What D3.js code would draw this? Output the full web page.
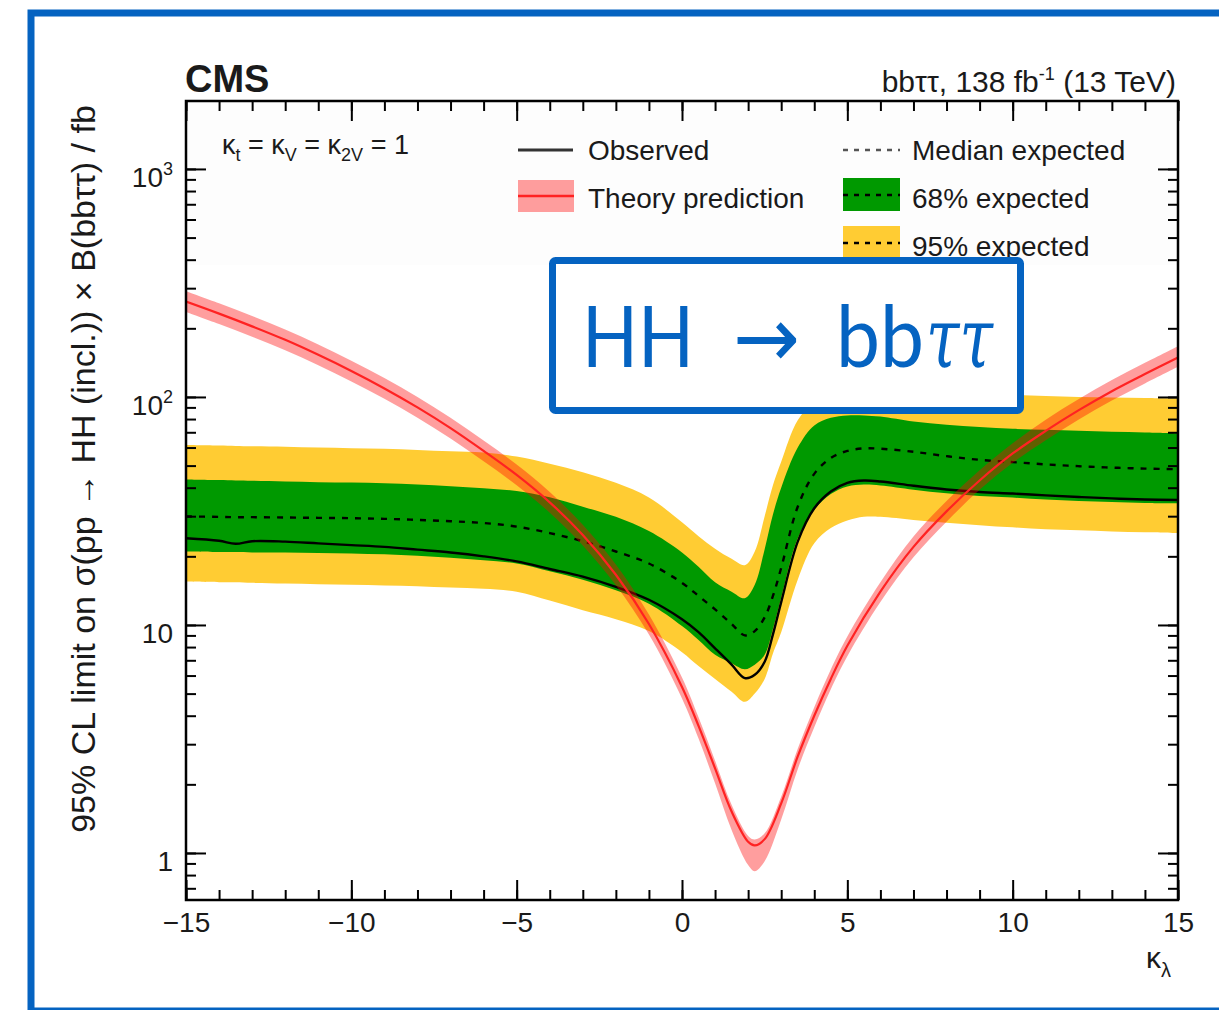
<!DOCTYPE html>
<html>
<head>
<meta charset="utf-8">
<title>HH to bbtautau limit vs kappa_lambda</title>
<script src="https://cdn.jsdelivr.net/npm/d3@7"></script>
<style>
  body { margin: 0; background: #fff; }
  svg text { font-family: "Liberation Sans", Arial, Helvetica, sans-serif; fill: #1a1a1a; }
</style>
</head>
<body>
<svg id="chart" width="1219" height="1010"></svg>
<script>
  // scan points for the limits (kappa_lambda)
  var kl = [-15,-14,-13.5,-13,-12,-11,-10,-9,-8,-7,-6,-5,-4,-3,-2,-1,0,0.5,1,1.5,1.9,2.2,2.5,2.75,3,3.5,4,4.5,5,5.5,6,7,8,9,10,11,12,13,14,15];
  var obsLimit  = [24.0,23.4,22.7,23.3,23.2,22.8,22.4,22.0,21.4,20.8,20.0,19.0,17.6,16.3,14.7,12.9,10.6,9.3,7.9,6.7,5.85,6.05,6.9,9.1,12.6,23.2,32.5,38.5,42.0,43.0,42.6,40.8,39.3,38.3,37.7,37.0,36.4,35.9,35.5,35.3];
  var expLimit  = [29.9,29.8,29.7,29.7,29.6,29.5,29.4,29.2,28.9,28.5,28.0,27.0,25.3,23.3,21.0,18.6,15.3,13.4,11.7,10.1,9.0,9.4,10.8,13.4,17.8,33.0,46.0,54.0,58.0,59.5,59.3,57.5,55.0,53.0,51.8,50.6,49.7,49.0,48.5,48.2];
  var exp68Up   = [43.5,43.2,43.0,42.9,42.6,42.3,42.1,41.8,41.3,40.6,39.8,38.7,36.3,33.0,29.8,25.8,20.8,18.0,15.4,14.0,13.1,15.0,21.5,30.5,40.0,60.0,75.0,81.0,83.0,83.0,82.0,78.0,75.5,73.8,72.5,71.8,71.0,70.3,69.8,69.3];
  var exp68Down = [21.0,20.9,20.9,20.8,20.8,20.7,20.6,20.4,20.1,19.7,19.2,18.6,17.2,15.8,14.2,12.4,9.9,8.6,7.4,6.8,6.4,6.7,7.4,9.6,13.2,24.0,32.0,37.5,40.5,41.3,40.9,39.2,37.8,36.8,36.2,35.5,35.0,34.6,34.3,34.2];
  var exp95Up   = [61.5,61.2,61.0,60.8,60.5,60.0,59.6,59.2,58.6,57.8,57.0,54.8,51.0,46.8,42.0,36.2,28.2,24.5,21.6,19.5,18.3,21.0,30.0,41.0,52.0,79.0,95.0,103.0,106.0,107.0,107.0,106.0,104.5,103.0,102.0,101.0,100.0,99.5,99.0,98.6];
  var exp95Down = [15.5,15.4,15.4,15.3,15.2,15.1,15.0,14.9,14.8,14.6,14.4,14.0,12.8,11.6,10.6,9.4,7.6,6.6,5.8,5.1,4.6,5.0,5.8,7.5,9.3,15.8,22.8,26.6,28.7,29.8,29.8,28.9,28.1,27.4,26.8,26.3,26.0,25.7,25.5,25.3];

  // theory prediction and its relative uncertainty
  var klTheory   = [-15,-14,-13,-12,-11,-10,-9,-8,-7,-6,-5,-4,-3,-2,-1,0,0.5,1,1.5,2,2.2,2.5,3,3.5,4,4.5,5,6,7,8,9,10,11,12,13,14,15];
  var theory     = [262,232,204,178,153,130,109,90,73,58,45.5,34.5,24.8,16.6,10.1,5.35,3.61,2.35,1.52,1.12,1.08,1.15,1.65,2.65,4.0,5.8,8.1,14.0,22,31.5,43,56.5,71,87.5,106,126,149];
  var theoryUp   = [0.11,0.11,0.11,0.11,0.11,0.11,0.11,0.11,0.11,0.11,0.11,0.11,0.11,0.11,0.10,0.10,0.09,0.08,0.07,0.06,0.06,0.06,0.07,0.08,0.09,0.10,0.10,0.10,0.11,0.11,0.11,0.11,0.12,0.12,0.12,0.12,0.12];
  var theoryDown = [0.10,0.10,0.10,0.10,0.10,0.10,0.10,0.10,0.10,0.10,0.10,0.10,0.10,0.10,0.10,0.11,0.12,0.14,0.17,0.21,0.23,0.20,0.15,0.12,0.11,0.10,0.10,0.10,0.10,0.10,0.09,0.09,0.09,0.09,0.09,0.09,0.09];

  var xTicks = [-15,-10,-5,0,5,10,15];
  var yTicks = [1,10,100,1000];
  var yTickBase = ["1","10","10","10"];
  var yTickExp = ["","","2","3"];

  var svg = d3.select("#chart");
  // plot frame in pixels (note: "top" is reserved on window)
  var pLeft = 186, pRight = 1178, pTop = 101, pBottom = 900;

  var x = d3.scaleLinear().domain([-15,15]).range([pLeft,pRight]);
  var y = d3.scaleLog().domain([0.622,1986]).range([pBottom,pTop]);
  var smooth = d3.curveCatmullRom.alpha(0.5);

  svg.append("defs").append("clipPath").attr("id","plotclip")
    .append("rect").attr("x",pLeft).attr("y",pTop).attr("width",pRight-pLeft).attr("height",pBottom-pTop);

  // faint legend backdrop
  svg.append("rect").attr("x",pLeft).attr("y",pTop).attr("width",pRight-pLeft).attr("height",164).attr("fill","#fdfdfd");

  var plot = svg.append("g").attr("clip-path","url(#plotclip)");

  function band(lo, hi) {
    return d3.area()
      .x(function(d,i){ return x(kl[i]); })
      .y0(function(d,i){ return y(lo[i]); })
      .y1(function(d,i){ return y(hi[i]); })
      .curve(smooth);
  }
  function limitLine(vals) {
    return d3.line()
      .x(function(d,i){ return x(kl[i]); })
      .y(function(d,i){ return y(vals[i]); })
      .curve(smooth);
  }

  plot.append("path").datum(kl).attr("d", band(exp95Down, exp95Up)).attr("fill","#ffcc33");
  plot.append("path").datum(kl).attr("d", band(exp68Down, exp68Up)).attr("fill","#009900");
  plot.append("path").datum(kl).attr("d", limitLine(expLimit))
    .attr("fill","none").attr("stroke","#000").attr("stroke-width",2.4).attr("stroke-dasharray","6,7");
  plot.append("path").datum(kl).attr("d", limitLine(obsLimit))
    .attr("fill","none").attr("stroke","#000").attr("stroke-width",2.4);

  // theory band + line
  var thArea = d3.area()
    .x(function(d,i){ return x(klTheory[i]); })
    .y0(function(d,i){ return y(theory[i]*(1-theoryDown[i])); })
    .y1(function(d,i){ return y(theory[i]*(1+theoryUp[i])); })
    .curve(smooth);
  var thLine = d3.line()
    .x(function(d,i){ return x(klTheory[i]); })
    .y(function(d,i){ return y(theory[i]); })
    .curve(smooth);
  plot.append("path").datum(klTheory).attr("d", thArea).attr("fill","#ff0000").attr("fill-opacity",0.38);
  plot.append("path").datum(klTheory).attr("d", thLine).attr("fill","none").attr("stroke","#ff2222").attr("stroke-width",2.2);

  // axes, ticks pointing inwards on all four sides
  function styleAxis(g) {
    g.select(".domain").remove();
    g.selectAll(".tick line").attr("stroke","#000").attr("stroke-width",2);
    g.selectAll(".tick text").style("font-size","28px").attr("fill","#1a1a1a");
  }
  var xMinor = d3.range(-15,16,1);
  var yMinor = y.ticks();

  svg.append("g").attr("transform","translate(0,"+pBottom+")")
    .call(d3.axisBottom(x).tickValues(xMinor).tickSizeInner(-10).tickSizeOuter(0).tickFormat(""))
    .call(styleAxis);
  svg.append("g").attr("transform","translate(0,"+pBottom+")")
    .call(d3.axisBottom(x).tickValues(xTicks).tickSizeInner(-20).tickSizeOuter(0).tickPadding(12).tickFormat(d3.format("d")))
    .call(styleAxis);
  svg.append("g").attr("transform","translate(0,"+pTop+")")
    .call(d3.axisTop(x).tickValues(xMinor).tickSizeInner(-10).tickSizeOuter(0).tickFormat(""))
    .call(styleAxis);
  svg.append("g").attr("transform","translate(0,"+pTop+")")
    .call(d3.axisTop(x).tickValues(xTicks).tickSizeInner(-20).tickSizeOuter(0).tickFormat(""))
    .call(styleAxis);

  svg.append("g").attr("transform","translate("+pLeft+",0)")
    .call(d3.axisLeft(y).tickValues(yMinor).tickSizeInner(-10).tickSizeOuter(0).tickFormat(""))
    .call(styleAxis);
  svg.append("g").attr("transform","translate("+pLeft+",0)")
    .call(d3.axisLeft(y).tickValues(yTicks).tickSizeInner(-20).tickSizeOuter(0).tickFormat(""))
    .call(styleAxis);
  svg.append("g").attr("transform","translate("+pRight+",0)")
    .call(d3.axisRight(y).tickValues(yMinor).tickSizeInner(-10).tickSizeOuter(0).tickFormat(""))
    .call(styleAxis);
  svg.append("g").attr("transform","translate("+pRight+",0)")
    .call(d3.axisRight(y).tickValues(yTicks).tickSizeInner(-20).tickSizeOuter(0).tickFormat(""))
    .call(styleAxis);

  // y tick labels with exponents
  yTicks.forEach(function(v,i) {
    var t = svg.append("text").attr("x",173).attr("y",y(v)+18)
      .attr("text-anchor","end").style("font-size","28px");
    t.append("tspan").text(yTickBase[i]);
    if (yTickExp[i]) t.append("tspan").attr("dy",-12).style("font-size","18px").text(yTickExp[i]);
  });

  svg.append("rect").attr("x",pLeft).attr("y",pTop).attr("width",pRight-pLeft).attr("height",pBottom-pTop)
    .attr("fill","none").attr("stroke","#000").attr("stroke-width",2.5);

  // titles
  svg.append("text").attr("transform","translate(95,469) rotate(-90)").attr("text-anchor","middle")
    .style("font-size","34px").text("95% CL limit on σ(pp → HH (incl.)) × B(bbττ) / fb");

  var xl = svg.append("text").attr("x",1146).attr("y",968).style("font-size","30px");
  xl.append("tspan").text("κ");
  xl.append("tspan").attr("dy",9).style("font-size","20px").text("λ");

  svg.append("text").attr("x",185).attr("y",92).style("font-size","38px").style("font-weight","bold").text("CMS");

  var lumi = svg.append("text").attr("x",1176).attr("y",92).attr("text-anchor","end").style("font-size","30px");
  lumi.append("tspan").text("bbττ, 138 fb");
  lumi.append("tspan").attr("dy",-12).style("font-size","18px").text("-1");
  lumi.append("tspan").attr("dy",12).text(" (13 TeV)");

  // coupling label
  var kt = svg.append("text").attr("x",222).attr("y",154).style("font-size","27px");
  kt.append("tspan").text("κ");
  kt.append("tspan").attr("dy",7).style("font-size","18px").text("t");
  kt.append("tspan").attr("dy",-7).text(" = κ");
  kt.append("tspan").attr("dy",7).style("font-size","18px").text("V");
  kt.append("tspan").attr("dy",-7).text(" = κ");
  kt.append("tspan").attr("dy",7).style("font-size","18px").text("2V");
  kt.append("tspan").attr("dy",-7).text(" = 1");

  // legend
  var lg = svg.append("g");
  lg.append("line").attr("x1",518).attr("x2",573).attr("y1",150).attr("y2",150).attr("stroke","#333").attr("stroke-width",3);
  lg.append("text").attr("x",588).attr("y",160).style("font-size","28px").text("Observed");
  lg.append("rect").attr("x",518).attr("y",180).attr("width",56).attr("height",32).attr("fill","#ff0000").attr("fill-opacity",0.38);
  lg.append("line").attr("x1",518).attr("x2",574).attr("y1",196).attr("y2",196).attr("stroke","#ff2222").attr("stroke-width",2.5);
  lg.append("text").attr("x",588).attr("y",208).style("font-size","28px").text("Theory prediction");

  lg.append("line").attr("x1",843).attr("x2",900).attr("y1",150).attr("y2",150).attr("stroke","#555").attr("stroke-width",2.4).attr("stroke-dasharray","5,6");
  lg.append("text").attr("x",912).attr("y",160).style("font-size","28px").text("Median expected");
  lg.append("rect").attr("x",843).attr("y",178).attr("width",57).attr("height",33).attr("fill","#009900");
  lg.append("line").attr("x1",843).attr("x2",900).attr("y1",195).attr("y2",195).attr("stroke","#000").attr("stroke-width",2.4).attr("stroke-dasharray","5,6");
  lg.append("text").attr("x",912).attr("y",208).style("font-size","28px").text("68% expected");
  lg.append("rect").attr("x",843).attr("y",226).attr("width",57).attr("height",33).attr("fill","#ffcc33");
  lg.append("line").attr("x1",843).attr("x2",900).attr("y1",243).attr("y2",243).attr("stroke","#000").attr("stroke-width",2.4).attr("stroke-dasharray","5,6");
  lg.append("text").attr("x",912).attr("y",256).style("font-size","28px").text("95% expected");

  // blue annotation box
  var blue = "#0563c1";
  svg.append("rect").attr("x",552.5).attr("y",260.5).attr("width",468).attr("height",150).attr("rx",3)
    .attr("fill","#fff").attr("stroke",blue).attr("stroke-width",7);
  function boxText(str, x0, w, fam, italic) {
    svg.append("text").attr("x",x0).attr("y",367)
      .attr("textLength",w).attr("lengthAdjust","spacingAndGlyphs")
      .style("font-family",fam).style("font-style",italic ? "italic" : "normal")
      .style("font-size","85px").style("fill",blue).text(str);
  }
  boxText("HH", 582, 112, "Lato, 'Open Sans', sans-serif", false);
  boxText("→", 733, 67, "'DejaVu Sans', sans-serif", false);
  boxText("bb", 836, 88, "Lato, 'Open Sans', sans-serif", false);
  boxText("ττ", 926, 67, "'DejaVu Serif', 'Liberation Serif', serif", true);

  // outer blue frame
  svg.append("rect").attr("x",31).attr("y",13).attr("width",1300).attr("height",998)
    .attr("fill","none").attr("stroke",blue).attr("stroke-width",7);
</script>
</body>
</html>
